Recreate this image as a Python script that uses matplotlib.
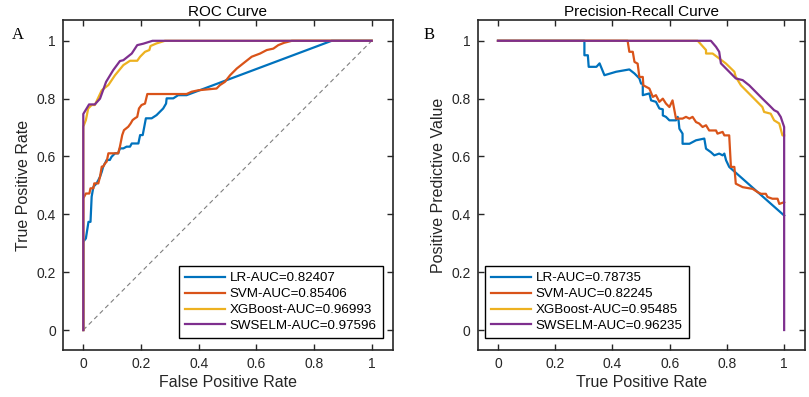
import numpy as np
import matplotlib.pyplot as plt

plt.rcParams['font.family'] = ['Liberation Sans', 'DejaVu Sans']

# ROC curves (FPR, TPR)
lr_fpr = [0, 0, 0.009, 0.018, 0.025, 0.029, 0.035, 0.046, 0.052, 0.058, 0.064, 0.069, 0.075,
          0.081, 0.092, 0.098, 0.110, 0.121, 0.127, 0.139, 0.150, 0.162, 0.168, 0.191, 0.197,
          0.206, 0.217, 0.237, 0.254, 0.266, 0.277, 0.287, 0.289, 0.312, 0.329, 0.358, 0.861, 1.0]
lr_tpr = [0, 0.305, 0.317, 0.374, 0.374, 0.461, 0.495, 0.507, 0.518, 0.530, 0.547, 0.565, 0.576,
          0.588, 0.588, 0.599, 0.611, 0.611, 0.628, 0.628, 0.634, 0.634, 0.645, 0.645, 0.674,
          0.674, 0.732, 0.732, 0.743, 0.755, 0.766, 0.783, 0.801, 0.801, 0.812, 0.812, 1.0, 1.0]

svm_fpr = [0, 0, 0.009, 0.021, 0.025, 0.035, 0.038, 0.052, 0.058, 0.064, 0.069, 0.075, 0.081,
           0.087, 0.121, 0.127, 0.135, 0.141, 0.156, 0.164, 0.171, 0.179, 0.187, 0.193, 0.202,
           0.214, 0.222, 0.358, 0.376, 0.399, 0.462, 0.474, 0.491, 0.509, 0.532, 0.561, 0.584,
           0.613, 0.636, 0.659, 0.676, 0.696, 0.723, 1.0]
svm_tpr = [0, 0.455, 0.472, 0.472, 0.490, 0.490, 0.507, 0.507, 0.530, 0.565, 0.565, 0.576, 0.582,
           0.611, 0.611, 0.634, 0.674, 0.691, 0.703, 0.714, 0.726, 0.732, 0.737, 0.766, 0.778,
           0.783, 0.816, 0.816, 0.824, 0.829, 0.835, 0.847, 0.858, 0.881, 0.904, 0.927, 0.945,
           0.956, 0.968, 0.973, 0.985, 0.993, 1.0, 1.0]

xgb_fpr = [0, 0, 0.009, 0.017, 0.029, 0.040, 0.064, 0.087, 0.110, 0.139, 0.162, 0.187, 0.197,
           0.214, 0.229, 0.233, 0.254, 0.283, 1.0]
xgb_tpr = [0, 0.703, 0.726, 0.766, 0.778, 0.778, 0.829, 0.847, 0.881, 0.916, 0.931, 0.931, 0.945,
           0.962, 0.968, 0.982, 0.991, 1.0, 1.0]

sws_fpr = [0, 0, 0.020, 0.040, 0.058, 0.079, 0.104, 0.127, 0.139, 0.168, 0.187, 0.208, 0.240, 1.0]
sws_tpr = [0, 0.747, 0.780, 0.780, 0.800, 0.858, 0.899, 0.930, 0.933, 0.956, 0.985, 0.990, 1.0, 1.0]

# Precision-recall curves (recall, precision)
lr_rec = [0, 0.302, 0.302, 0.314, 0.317, 0.344, 0.355, 0.372, 0.413, 0.459, 0.477, 0.494, 0.500,
          0.506, 0.506, 0.529, 0.535, 0.552, 0.564, 0.576, 0.576, 0.587, 0.599, 0.622, 0.628,
          0.631, 0.634, 0.645, 0.645, 0.669, 0.692, 0.721, 0.727, 0.744, 0.756, 0.773, 0.785,
          0.791, 0.797, 0.808, 1.0]
lr_prec = [1.0, 1.0, 0.950, 0.950, 0.910, 0.910, 0.922, 0.881, 0.893, 0.901, 0.887, 0.870, 0.852,
           0.852, 0.812, 0.818, 0.794, 0.789, 0.766, 0.763, 0.742, 0.737, 0.725, 0.725, 0.737,
           0.725, 0.696, 0.679, 0.644, 0.644, 0.656, 0.662, 0.627, 0.615, 0.604, 0.610, 0.604,
           0.610, 0.587, 0.564, 0.396]

svm_rec = [0, 0.453, 0.459, 0.471, 0.477, 0.488, 0.494, 0.506, 0.508, 0.529, 0.541, 0.552, 0.564,
           0.576, 0.587, 0.599, 0.610, 0.622, 0.645, 0.657, 0.669, 0.680, 0.692, 0.703, 0.715,
           0.727, 0.738, 0.762, 0.767, 0.785, 0.791, 0.808, 0.814, 0.826, 0.831, 0.855, 0.890,
           0.907, 0.919, 0.936, 0.942, 0.959, 0.977, 0.983, 1.0]
svm_prec = [1.0, 1.0, 0.962, 0.962, 0.927, 0.921, 0.875, 0.875, 0.846, 0.835, 0.806, 0.812, 0.789,
            0.800, 0.783, 0.771, 0.794, 0.731, 0.731, 0.737, 0.731, 0.737, 0.719, 0.714, 0.702,
            0.708, 0.690, 0.690, 0.679, 0.685, 0.673, 0.673, 0.564, 0.564, 0.506, 0.494, 0.488,
            0.477, 0.471, 0.471, 0.460, 0.454, 0.454, 0.436, 0.442]

xgb_rec = [0, 0.698, 0.727, 0.727, 0.750, 0.773, 0.797, 0.826, 0.831, 0.849, 0.872, 0.901, 0.924,
           0.930, 0.953, 0.965, 0.983, 0.994, 1.0]
xgb_prec = [1.0, 1.0, 0.968, 0.956, 0.956, 0.939, 0.921, 0.893, 0.875, 0.846, 0.823, 0.794, 0.771,
            0.754, 0.748, 0.725, 0.714, 0.673, 0.673]

sws_rec = [0, 0.744, 0.762, 0.773, 0.779, 0.797, 0.820, 0.831, 0.855, 0.878, 0.901, 0.924, 0.948,
           0.965, 0.977, 0.988, 1.0, 1.0]
sws_prec = [1.0, 1.0, 0.979, 0.962, 0.922, 0.904, 0.881, 0.870, 0.864, 0.846, 0.823, 0.800, 0.777,
            0.760, 0.754, 0.737, 0.702, 0.0]

roc_labels = ['LR-AUC=0.82407', 'SVM-AUC=0.85406', 'XGBoost-AUC=0.96993', 'SWSELM-AUC=0.97596']
pr_labels = ['LR-AUC=0.78735', 'SVM-AUC=0.82245', 'XGBoost-AUC=0.95485', 'SWSELM-AUC=0.96235']
colors = ['#0072BD', '#D95319', '#EDB120', '#7E2F8E']
ticks = [0, 0.2, 0.4, 0.6, 0.8, 1]
tick_labels = ['0', '0.2', '0.4', '0.6', '0.8', '1']

fig = plt.figure(figsize=(8.09, 3.97), dpi=100)
ax1 = fig.add_axes([0.0775, 0.1184, 0.408, 0.831])
ax2 = fig.add_axes([0.5903, 0.1184, 0.4048, 0.831])

roc = [(lr_fpr, lr_tpr), (svm_fpr, svm_tpr), (xgb_fpr, xgb_tpr), (sws_fpr, sws_tpr)]
pr = [(lr_rec, lr_prec), (svm_rec, svm_prec), (xgb_rec, xgb_prec), (sws_rec, sws_prec)]

ax1.plot([0, 1], [0, 1], color='#7f7f7f', lw=0.8, dashes=(4, 3))
for (x, y), c, lab in zip(roc, colors, roc_labels):
    ax1.plot(x, y, color=c, lw=1.6, label=lab)
for (x, y), c, lab in zip(pr, colors, pr_labels):
    ax2.plot(x, y, color=c, lw=1.6, label=lab)

for ax in (ax1, ax2):
    ax.set_xlim(-0.0714, 1.073)
    ax.set_ylim(-0.069, 1.0716)
    ax.set_xticks(ticks)
    ax.set_xticklabels(tick_labels)
    ax.set_yticks(ticks)
    ax.set_yticklabels(tick_labels)
    ax.tick_params(direction='in', top=True, right=True, length=4, width=1,
                   labelsize=10, pad=5, colors='#262626', labelcolor='#262626')
    for s in ax.spines.values():
        s.set_linewidth(1.2)
        s.set_color('#262626')

lab_kw = dict(fontsize=11.5, color='#262626')
ax1.set_title('ROC Curve', fontsize=11, pad=3, color='black')
ax1.set_xlabel('False Positive Rate', labelpad=3, **lab_kw)
ax1.set_ylabel('True Positive Rate', labelpad=4, **lab_kw)
ax2.set_title('Precision-Recall Curve', fontsize=11, pad=3, color='black')
ax2.set_xlabel('True Positive Rate', labelpad=3, **lab_kw)
ax2.set_ylabel('Positive Predictive Value', labelpad=4, **lab_kw)

leg_kw = dict(fontsize=9.6, frameon=True, fancybox=False, edgecolor='black',
              handlelength=3.0, handletextpad=0.35, borderpad=0.45, labelspacing=0.27,
              borderaxespad=0)
l1 = ax1.legend(loc='lower right', bbox_to_anchor=(0.97, 0.036), **leg_kw)
l2 = ax2.legend(loc='lower left', bbox_to_anchor=(0.023, 0.036), **leg_kw)
for l in (l1, l2):
    l.get_frame().set_linewidth(1.0)
    l.get_frame().set_alpha(1)

fig.text(12 / 809, 1 - 35 / 397, 'A', family='Liberation Serif', fontsize=12, va='center')
fig.text(424 / 809, 1 - 35 / 397, 'B', family='Liberation Serif', fontsize=12, va='center')

fig.savefig('out.png', dpi=100)
